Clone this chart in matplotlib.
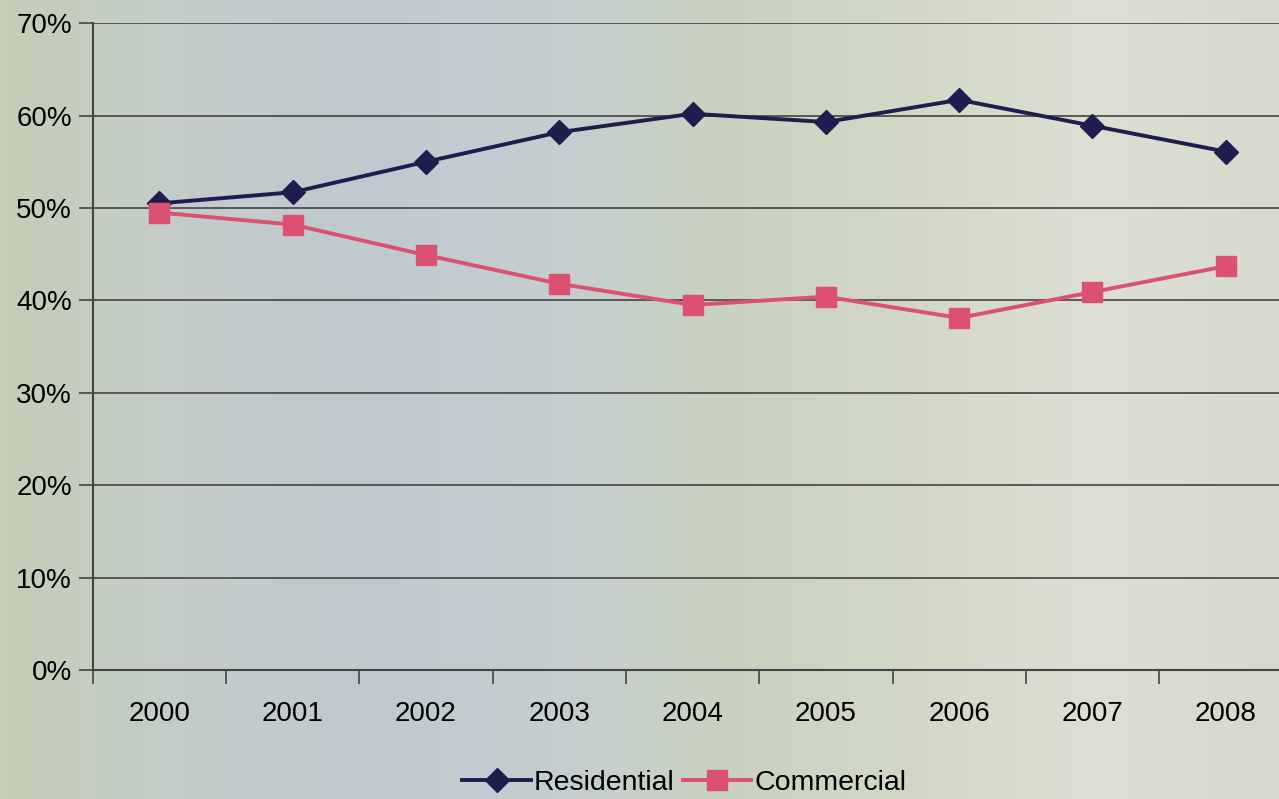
import numpy as np
import matplotlib.pyplot as plt
from matplotlib.colors import LinearSegmentedColormap
from matplotlib.ticker import PercentFormatter

plt.rcParams['font.family'] = ['Liberation Sans', 'DejaVu Sans']

# Data
years = ['2000', '2001', '2002', '2003', '2004', '2005', '2006', '2007', '2008']
residential = [50.5, 51.7, 55.0, 58.2, 60.2, 59.3, 61.7, 58.9, 56.1]
commercial = [49.5, 48.2, 44.9, 41.8, 39.5, 40.4, 38.1, 40.9, 43.7]

fig = plt.figure(figsize=(12.79, 7.99), dpi=100)

# scanned-paper background, banded left to right
bg = fig.add_axes([0, 0, 1, 1], zorder=0)
bg.axis('off')
cmap = LinearSegmentedColormap.from_list(
    'paper', ['#c5ceb6', '#c3ccc9', '#bfcad0', '#c4ced0', '#cad2bf', '#d3d8c6', '#dcdfd2', '#d6dacd'])
bg.imshow(np.linspace(0, 1, 256)[None, :], aspect='auto', cmap=cmap, extent=[0, 1, 0, 1])

ax = fig.add_axes([0.0725, 0.1615, 0.938, 0.8095], zorder=1)
ax.patch.set_alpha(0)

x = np.arange(len(years))
ax.plot(x, residential, color='#1f1d4d', lw=2.8, marker='D', ms=12, label='Residential', zorder=3)
ax.plot(x, commercial, color='#dc5172', lw=2.8, marker='s', ms=14, label='Commercial', zorder=3)

ax.set_xlim(-0.5, len(years) - 0.5)
ax.set_ylim(0, 70)
ax.set_yticks(np.arange(0, 71, 10))
ax.yaxis.set_major_formatter(PercentFormatter(decimals=0))
ax.set_xticks(x)
ax.set_xticklabels(years)
ax.set_xticks(np.arange(-0.5, len(years), 1), minor=True)
ax.tick_params(axis='x', which='major', length=0, pad=22, labelsize=20)
ax.tick_params(axis='x', which='minor', length=10, direction='out', color='#444444', width=1.2)
ax.tick_params(axis='y', length=10, color='#444444', width=1.2, labelsize=20, pad=5)
ax.grid(axis='y', color='#444444', lw=1.2)
for s in ['top', 'right']:
    ax.spines[s].set_visible(False)
for s in ['left', 'bottom']:
    ax.spines[s].set_color('#444444')
    ax.spines[s].set_linewidth(1.5)

fig.legend(loc='lower center', bbox_to_anchor=(0.535, -0.028), ncol=2, frameon=False,
           fontsize=20.5, handlelength=2.4, handletextpad=0.1, columnspacing=0.3)

fig.savefig('out.png', dpi=100)
